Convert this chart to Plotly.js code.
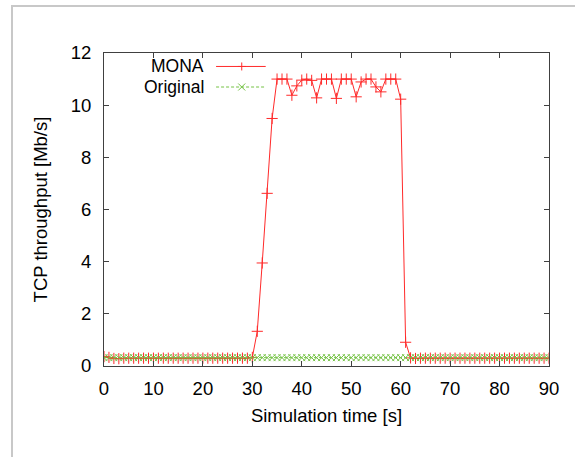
<!DOCTYPE html>
<html>
<head>
<meta charset="utf-8">
<script src="https://cdn.plot.ly/plotly-3.0.1.min.js"></script>
<style>
  html, body { margin: 0; padding: 0; background: #ffffff; overflow: hidden; }
  #frame { position: absolute; left: 11px; top: 5px; width: 700px; height: 600px;
           border-top: 2px solid #c8c8c8; border-left: 2px solid #c8c8c8; }
  #chart { position: absolute; left: 0; top: 0; width: 575px; height: 457px; }
</style>
</head>
<body>
<div id="frame"></div>
<div id="chart"></div>
<script>
// ---- data ----
const timeSec = [0,1,2,3,4,5,6,7,8,9,10,11,12,13,14,15,16,17,18,19,20,21,22,23,24,25,26,27,28,29,
  30,31,32,33,34,35,36,37,38,39,40,41,42,43,44,45,46,47,48,49,50,51,52,53,54,55,56,57,58,59,
  60,61,62,63,64,65,66,67,68,69,70,71,72,73,74,75,76,77,78,79,80,81,82,83,84,85,86,87,88,89,90];

const monaMbps = [0.36,0.33,0.29,0.28,0.30,0.30,0.30,0.30,0.30,0.30,0.30,0.30,0.30,0.30,0.30,
  0.30,0.30,0.30,0.30,0.30,0.30,0.30,0.30,0.30,0.30,0.30,0.30,0.30,0.30,0.30,
  0.33,1.33,3.95,6.62,9.49,11.0,11.0,11.0,10.38,10.74,10.96,11.0,10.95,10.28,11.0,
  11.0,11.0,10.26,11.0,11.0,11.0,10.32,10.89,11.0,11.0,10.70,10.51,11.0,11.0,11.0,
  10.23,0.91,0.31,0.29,0.30,0.30,0.30,0.30,0.30,0.30,0.30,0.30,0.30,0.30,0.30,
  0.30,0.30,0.30,0.30,0.30,0.30,0.30,0.30,0.30,0.30,0.30,0.30,0.30,0.30,0.30,0.30];

const originalMbps = [0.32,0.32,0.32,0.32,0.32,0.32,0.32,0.32,0.32,0.32,0.32,0.32,0.32,0.32,0.32,
  0.32,0.32,0.32,0.32,0.32,0.32,0.32,0.32,0.32,0.32,0.32,0.32,0.32,0.32,0.32,
  0.32,0.32,0.32,0.32,0.32,0.32,0.32,0.32,0.32,0.32,0.32,0.32,0.32,0.32,0.32,
  0.32,0.32,0.32,0.32,0.32,0.32,0.32,0.32,0.32,0.32,0.32,0.32,0.32,0.32,0.32,
  0.32,0.32,0.32,0.32,0.32,0.32,0.32,0.32,0.32,0.32,0.32,0.32,0.32,0.32,0.32,
  0.32,0.32,0.32,0.32,0.32,0.32,0.32,0.32,0.32,0.32,0.32,0.32,0.32,0.32,0.32,0.32];

const seriesNames = ['MONA', 'Original'];
const xTickVals = [0,10,20,30,40,50,60,70,80,90];
const yTickVals = [0,2,4,6,8,10,12];
const xTitle = 'Simulation time [s]';
const yTitle = 'TCP throughput [Mb/s]';

// ---- styles ----
const RED = '#ff2a2a';
const GREEN = '#74c244';
const FONT = 'Liberation Sans, Arial, sans-serif';
const FS = 18.5;
const LEG_FS = 17.5;

const traces = [
  { x: timeSec, y: monaMbps, name: seriesNames[0], type: 'scatter', mode: 'lines+markers',
    line: { color: RED, width: 1 },
    marker: { symbol: 'cross-thin', size: 8, line: { color: RED, width: 1 } } },
  { x: timeSec, y: originalMbps, name: seriesNames[1], type: 'scatter', mode: 'lines+markers',
    line: { color: GREEN, width: 1, dash: '3px,2px' },
    marker: { symbol: 'x-thin', size: 7, line: { color: GREEN, width: 1 } } }
];

// plot area in px: left 103.8, right 549.3, top 52.7, bottom 366.5
const L = 103.8, R = 549.3, T = 52.7, B = 366.5;
const px2x = v => (v - L) / (R - L);
const px2y = v => (B - v) / (B - T);

const legendTextRight = px2x(205);
const sampleX0 = px2x(216), sampleX1 = px2x(265.7), sampleMid = px2x(241.7);
const rowY = [px2y(66.2), px2y(86.8)];

const annotations = [0, 1].map(i => ({
  xref: 'paper', yref: 'paper', x: legendTextRight, y: rowY[i],
  xanchor: 'right', yanchor: 'middle', showarrow: false, borderpad: 0,
  text: seriesNames[i], font: { family: FONT, size: LEG_FS, color: '#000' }
}));

const shapes = [
  { type: 'line', xref: 'paper', yref: 'paper', x0: sampleX0, x1: sampleX1, y0: rowY[0], y1: rowY[0],
    line: { color: RED, width: 1 } },
  { type: 'line', xref: 'paper', yref: 'paper', xsizemode: 'pixel', ysizemode: 'pixel',
    xanchor: sampleMid, yanchor: rowY[0], x0: 0, x1: 0, y0: -4, y1: 4, line: { color: RED, width: 1 } },
  { type: 'line', xref: 'paper', yref: 'paper', xsizemode: 'pixel', ysizemode: 'pixel',
    xanchor: sampleMid, yanchor: rowY[0], x0: -4, x1: 4, y0: 0, y1: 0, line: { color: RED, width: 1 } },
  { type: 'line', xref: 'paper', yref: 'paper', x0: sampleX0, x1: sampleX1, y0: rowY[1], y1: rowY[1],
    line: { color: GREEN, width: 1, dash: '3px,2px' } },
  { type: 'line', xref: 'paper', yref: 'paper', xsizemode: 'pixel', ysizemode: 'pixel',
    xanchor: sampleMid, yanchor: rowY[1], x0: -3.5, x1: 3.5, y0: -3.5, y1: 3.5, line: { color: GREEN, width: 1 } },
  { type: 'line', xref: 'paper', yref: 'paper', xsizemode: 'pixel', ysizemode: 'pixel',
    xanchor: sampleMid, yanchor: rowY[1], x0: -3.5, x1: 3.5, y0: 3.5, y1: -3.5, line: { color: GREEN, width: 1 } }
];

const axisCommon = {
  showgrid: false, zeroline: false, showline: true, linecolor: '#404040', linewidth: 1,
  mirror: 'ticks', ticks: 'inside', ticklen: 5, tickwidth: 1, tickcolor: '#404040',
  tickfont: { family: FONT, size: FS, color: '#000' }, automargin: false
};

const layout = {
  width: 575, height: 457,
  margin: { l: L, r: 575 - R, t: T, b: 457 - B, pad: 0 },
  paper_bgcolor: 'rgba(0,0,0,0)', plot_bgcolor: 'rgba(0,0,0,0)',
  showlegend: false,
  font: { family: FONT, size: FS, color: '#000' },
  xaxis: Object.assign({}, axisCommon, {
    range: [0, 90], tickvals: xTickVals, ticklabelstandoff: 6,
    title: { text: xTitle, font: { family: FONT, size: FS, color: '#000' }, standoff: 10 }
  }),
  yaxis: Object.assign({}, axisCommon, {
    range: [0, 12], tickvals: yTickVals, ticklabelstandoff: 8,
    title: { text: yTitle, font: { family: FONT, size: FS, color: '#000' }, standoff: 18 }
  }),
  annotations: annotations,
  shapes: shapes
};

Plotly.newPlot('chart', traces, layout, { displayModeBar: false, staticPlot: true });
</script>
</body>
</html>
